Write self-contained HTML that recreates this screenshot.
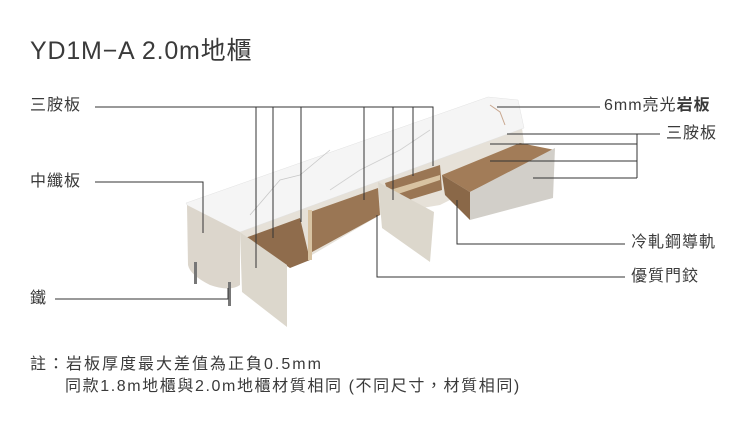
<!DOCTYPE html>
<html><head><meta charset="utf-8"><style>
html,body{margin:0;padding:0;background:#fff;}
body{width:750px;height:437px;position:relative;overflow:hidden;font-family:"Liberation Sans","Noto Sans CJK TC",sans-serif;color:#3a3a3a;}
.t{position:absolute;font-size:16px;letter-spacing:1px;white-space:nowrap;line-height:1;}
</style></head><body>
<svg width="750" height="437" style="position:absolute;left:0;top:0">
<polygon points="240,232 522,128 525,150 470,190 440,205 380,215 300,262 290,268" fill="#e6e1d8"/>
<polygon points="245,238 300,218 310,260 290,268" fill="#8f6c4c"/>
<polygon points="310,212 378,188 380,215 312,252" fill="#9a7654"/>
<rect x="308" y="210" width="4" height="50" fill="#d8c3a2"/>
<polygon points="385,183 440,165 442,190 392,205" fill="#9a7654"/>
<polygon points="390,190 440,175 440,180 392,196" fill="#d8c3a2"/>
<polygon points="186,203 488,97 518,100 524,128 240,232 200,228" fill="#f5f5f5" stroke="#e2e2e2" stroke-width="0.5"/>
<polyline points="250,215 280,180 300,175 330,150" stroke="#c8c8c8" fill="none" stroke-width="0.8"/>
<polyline points="330,190 360,170 400,150 430,130" stroke="#d0d0d0" fill="none" stroke-width="0.8"/>
<polyline points="490,105 500,112 505,125" stroke="#c9a890" fill="none" stroke-width="1"/>
<path d="M187,205 L240,232 L240,285 Q230,292 210,285 Q190,275 188,265 Z" fill="#dcd6cc"/>
<rect x="194" y="262" width="3" height="22" fill="#777"/><rect x="228" y="282" width="3" height="24" fill="#777"/>
<polygon points="240,232 287,265 287,327 242,292" fill="#dcd7cc"/>
<polygon points="378,182 434,212 430,262 382,228" fill="#dcd7cc"/>
<polygon points="442,175 520,143 555,150 470,192" fill="#a27c58"/>
<polygon points="442,175 470,192 470,220 445,195" fill="#8a6848"/>
<polygon points="470,192 555,148 553,198 470,220" fill="#d2cfc9"/>
<g stroke="#333" stroke-width="1" fill="none">
<polyline points="95,107 433,107 433,166"/>
<line x1="256" y1="107" x2="256" y2="268"/><line x1="273" y1="107" x2="273" y2="238"/>
<line x1="301" y1="107" x2="301" y2="222"/><line x1="364" y1="107" x2="364" y2="200"/>
<line x1="393" y1="107" x2="393" y2="200"/><line x1="413" y1="107" x2="413" y2="176"/>
<polyline points="95,182 203,182 203,233"/>
<polyline points="55,299 228,299 228,288"/>
<line x1="497" y1="107" x2="600" y2="107"/>
<line x1="507" y1="134" x2="660" y2="134"/>
<line x1="637" y1="134" x2="637" y2="178"/>
<line x1="490" y1="144" x2="637" y2="144"/>
<line x1="490" y1="161" x2="637" y2="161"/>
<line x1="533" y1="178" x2="637" y2="178"/>
<polyline points="457,200 457,244 625,244"/>
<polyline points="377,215 377,277 625,277"/>
</g>
</svg>
<div class="t" style="left:30px;top:39px;font-size:25px;letter-spacing:0.8px;">YD1M−A 2.0m地櫃</div>
<div class="t" style="left:30px;top:98px;">三胺板</div>
<div class="t" style="left:30px;top:174px;">中纖板</div>
<div class="t" style="left:30px;top:291px;">鐵</div>
<div class="t" style="left:604px;top:98px;">6mm亮光<b>岩板</b></div>
<div class="t" style="left:666px;top:126px;">三胺板</div>
<div class="t" style="left:631px;top:235px;">冷軋鋼導軌</div>
<div class="t" style="left:631px;top:269px;">優質門鉸</div>
<div class="t" style="left:30px;top:357px;letter-spacing:2px;">註：岩板厚度最大差值為正負0.5mm</div>
<div class="t" style="left:65px;top:379px;letter-spacing:1.6px;">同款1.8m地櫃與2.0m地櫃材質相同 (不同尺寸，材質相同)</div>
</body></html>
